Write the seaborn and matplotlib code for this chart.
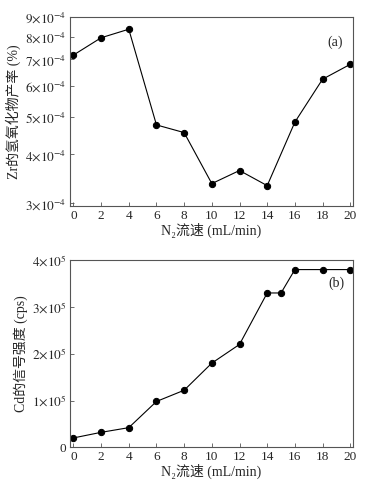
import matplotlib
matplotlib.use("Agg")

import matplotlib.pyplot as plt
import matplotlib.ticker as mticker
import seaborn as sns
import pandas as pd

# -----------------------------
# DATA
# -----------------------------
flow_a = [0, 2, 4, 6, 8, 10, 12, 14, 16, 18, 20]
zr_yield = [7.18e-4, 7.95e-4, 8.36e-4, 4.76e-4, 4.55e-4, 3.37e-4,
            3.64e-4, 3.33e-4, 4.84e-4, 6.23e-4, 6.80e-4]

flow_b = [0, 2, 4, 6, 8, 10, 12, 14, 15, 16, 18, 20]
cd_signal = [2.0e4, 3.2e4, 4.2e4, 9.8e4, 1.22e5, 1.8e5, 2.2e5,
             3.3e5, 3.3e5, 3.8e5, 3.8e5, 3.8e5]

x_ticks = [0, 2, 4, 6, 8, 10, 12, 14, 16, 18, 20]
ya_ticks = [3e-4, 4e-4, 5e-4, 6e-4, 7e-4, 8e-4, 9e-4]
yb_ticks = [0, 1e5, 2e5, 3e5, 4e5]

df_a = pd.DataFrame({"flow": flow_a, "val": zr_yield})
df_b = pd.DataFrame({"flow": flow_b, "val": cd_signal})

sns.set_theme(style="ticks")
plt.rcParams["font.family"] = ["Liberation Serif", "Noto Sans CJK SC"]
plt.rcParams["mathtext.fontset"] = "stix"
plt.rcParams["xtick.direction"] = "in"
plt.rcParams["ytick.direction"] = "in"


def sci_fmt(v, pos):
    if v == 0:
        return "0"
    exp = int(f"{v:e}".split("e")[1])
    mant = v / 10 ** exp
    return r"$%d{\times}10^{%d}$" % (round(mant), exp)


fig = plt.figure(figsize=(3.72, 4.91), dpi=100)
ax1 = fig.add_axes([0.188, 0.580, 0.761, 0.386])
ax2 = fig.add_axes([0.188, 0.089, 0.761, 0.381])

line_kw = dict(color="black", linewidth=0.8, marker="o", markersize=4.5,
               markeredgecolor="black", markerfacecolor="black")

# -----------------------------
# (a) Zr hydroxide yield
# -----------------------------
sns.lineplot(data=df_a, x="flow", y="val", ax=ax1, **line_kw)
ax1.set_yscale("log")
ax1.set_ylim(2.95e-4, 9e-4)
ax1.yaxis.set_major_locator(mticker.FixedLocator(ya_ticks))
ax1.yaxis.set_major_formatter(mticker.FuncFormatter(sci_fmt))
ax1.yaxis.set_minor_locator(mticker.NullLocator())
ax1.set_ylabel("Zr的氢氧化物产率 (%)", fontsize=10, labelpad=3)
ax1.text(0.935, 0.865, "(a)", transform=ax1.transAxes, ha="center",
         va="center", fontsize=10)

# -----------------------------
# (b) Cd signal intensity
# -----------------------------
sns.lineplot(data=df_b, x="flow", y="val", ax=ax2, **line_kw)
ax2.set_ylim(0, 4e5)
ax2.set_yticks(yb_ticks)
ax2.yaxis.set_major_formatter(mticker.FuncFormatter(sci_fmt))
ax2.set_ylabel("Cd的信号强度 (cps)", fontsize=10, labelpad=3)
ax2.text(0.94, 0.875, "(b)", transform=ax2.transAxes, ha="center",
         va="center", fontsize=10)

for ax in (ax1, ax2):
    ax.set_xlim(-0.25, 20.2)
    ax.set_xticks(x_ticks)
    ax.set_xlabel("N\u2082流速 (mL/min)", fontsize=10, labelpad=1)
    ax.tick_params(labelsize=9.5, length=3, width=0.6, color="#555555", pad=2.5)
    for sp in ax.spines.values():
        sp.set_color("#555555")
        sp.set_linewidth(0.8)

fig.savefig("out.png", dpi=100)
plt.close(fig)
